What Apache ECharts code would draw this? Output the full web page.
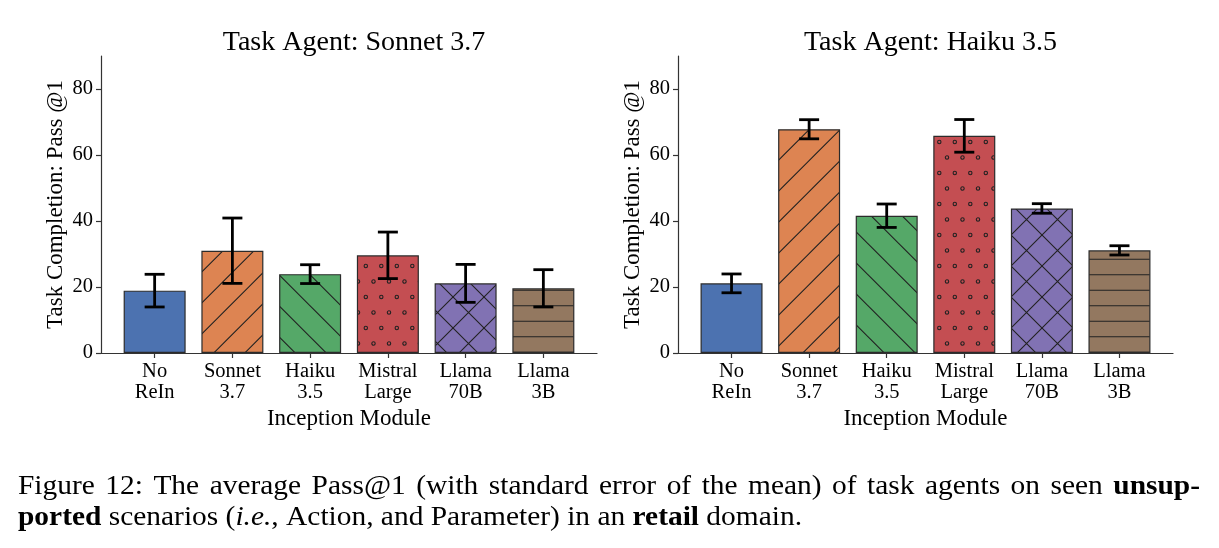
<!DOCTYPE html>
<html>
<head>
<meta charset="utf-8">
<script src="https://cdn.jsdelivr.net/npm/echarts@6/dist/echarts.min.js"></script>
<style>
html, body { margin: 0; padding: 0; background: #fff; }
#main { width: 1219px; height: 548px; }
</style>
</head>
<body>
<div id="main"></div>
<script>
// data
var modules = ['No\nReIn', 'Sonnet\n3.7', 'Haiku\n3.5', 'Mistral\nLarge', 'Llama\n70B', 'Llama\n3B'];
var sonnetMean = [18.9, 31.0, 23.9, 29.6, 21.1, 19.6];
var sonnetErr = [4.95, 9.9, 2.85, 7.05, 5.75, 5.65];
var haikuMean = [21.1, 67.8, 41.6, 65.8, 43.8, 31.1];
var haikuErr = [2.85, 2.9, 3.55, 4.95, 1.45, 1.4];
var yTicks = [0, 20, 40, 60, 80];
var xTicks = [0, 1, 2, 3, 4, 5];
var titles = ['Task Agent: Sonnet 3.7', 'Task Agent: Haiku 3.5'];

var barColors = ['#4C72B0', '#DD8452', '#55A868', '#C44E52', '#8172B3', '#937860'];
var hatches = ['', '/', '\\', 'o', 'x', '-'];
var serif = '"Liberation Serif", "DejaVu Serif", serif';

// matplotlib-like hatch tiles (canvas patterns)
function makeHatch(bg, hatch) {
    var s = 31;
    var c = document.createElement('canvas');
    c.width = s;
    c.height = s;
    var ctx = c.getContext('2d');
    ctx.fillStyle = bg;
    ctx.fillRect(0, 0, s, s);
    ctx.strokeStyle = '#222';
    ctx.lineWidth = 1.1;
    ctx.beginPath();
    if (hatch == '/' || hatch == 'x') {
        var cs = hatch == 'x' ? [6, 37] : [8.7, 39.7];
        cs.forEach(function (cc) {
            ctx.moveTo(cc + 12, -12);
            ctx.lineTo(cc - 43, 43);
        });
    }
    if (hatch == '\\' || hatch == 'x') {
        var cb = hatch == 'x' ? [-1, 30] : [-4.3, 26.7];
        cb.forEach(function (cc) {
            ctx.moveTo(-12, cc - 12);
            ctx.lineTo(43, cc + 43);
        });
    }
    if (hatch == '-') {
        [11.3, 26.8].forEach(function (y) {
            ctx.moveTo(0, y);
            ctx.lineTo(s, y);
        });
    }
    ctx.stroke();
    if (hatch == 'o') {
        var pts = [[9.3, 18], [24.8, 18], [1.5, 2.5], [17, 2.5]];
        pts.forEach(function (p) {
            for (var dx = -s; dx <= s; dx += s) {
                for (var dy = -s; dy <= s; dy += s) {
                    ctx.beginPath();
                    ctx.arc(p[0] + dx, p[1] + dy, 1.7, 0, Math.PI * 2);
                    ctx.stroke();
                }
            }
        });
    }
    return { image: c, repeat: 'repeat' };
}

var patterns = barColors.map(function (col, i) {
    return hatches[i] ? makeHatch(col, hatches[i]) : col;
});

var grids = [
    { left: 101, top: 56, width: 496, height: 297 },
    { left: 678, top: 56, width: 495, height: 297 }
];

var xMin = -0.69, xMax = 5.69;

function xAxisFor(i) {
    return {
        type: 'value',
        gridIndex: i,
        min: xMin,
        max: xMax,
        axisLine: { show: true, onZero: false, lineStyle: { color: '#333', width: 1.2 } },
        axisTick: { show: true, customValues: xTicks, length: 5, lineStyle: { color: '#333', width: 1.2 } },
        axisLabel: {
            customValues: xTicks,
            formatter: function (v) { return modules[Math.round(v)]; },
            fontFamily: serif,
            fontSize: 20.5,
            lineHeight: 21,
            color: '#000',
            margin: 8
        },
        splitLine: { show: false },
        name: 'Inception Module',
        nameLocation: 'middle',
        nameGap: 53,
        nameTextStyle: { fontFamily: serif, fontSize: 23, color: '#000' }
    };
}

function yAxisFor(i) {
    return {
        type: 'value',
        gridIndex: i,
        min: 0,
        max: 90,
        axisLine: { show: true, onZero: false, lineStyle: { color: '#333', width: 1.2 } },
        axisTick: { show: true, customValues: yTicks, length: 5, lineStyle: { color: '#333', width: 1.2 } },
        axisLabel: { customValues: yTicks, fontFamily: serif, fontSize: 20.5, color: '#000', margin: 8 },
        splitLine: { show: false },
        name: 'Task Completion: Pass @1',
        nameLocation: 'middle',
        nameGap: 34,
        nameTextStyle: { fontFamily: serif, fontSize: 23, color: '#000' }
    };
}

function barSeries(i, means) {
    return {
        type: 'bar',
        xAxisIndex: i,
        yAxisIndex: i,
        barWidth: 62,
        silent: true,
        data: means.map(function (v, j) {
            return { value: [j, v], itemStyle: { color: patterns[j] } };
        }),
        itemStyle: { borderColor: '#2b2b2b', borderWidth: 1.2 }
    };
}

function errSeries(i, means, errs) {
    return {
        type: 'custom',
        xAxisIndex: i,
        yAxisIndex: i,
        silent: true,
        z: 5,
        data: means.map(function (v, j) { return [j, v - errs[j], v + errs[j]]; }),
        renderItem: function (params, api) {
            var lo = api.coord([api.value(0), api.value(1)]);
            var hi = api.coord([api.value(0), api.value(2)]);
            var half = 10;
            var st = { stroke: '#000', lineWidth: 2.8 };
            return {
                type: 'group',
                children: [
                    { type: 'line', shape: { x1: hi[0], y1: hi[1], x2: lo[0], y2: lo[1] }, style: st },
                    { type: 'line', shape: { x1: hi[0] - half, y1: hi[1], x2: hi[0] + half, y2: hi[1] }, style: st },
                    { type: 'line', shape: { x1: lo[0] - half, y1: lo[1], x2: lo[0] + half, y2: lo[1] }, style: st }
                ]
            };
        }
    };
}

// caption, line 1 justified word by word
var capLine1 = [
    ['Figure'], ['12:'], ['The'], ['average'], ['Pass@1'], ['(with'], ['standard'], ['error'],
    ['of'], ['the'], ['mean)'], ['of'], ['task'], ['agents'], ['on'], ['seen'], ['unsup-', 'b']
];
var capLine2 = [
    ['ported', 'b'], ['scenarios'], ['(', '', 1], ['i.e.', 'i', 1], [','], ['Action,'], ['and'],
    ['Parameter)'], ['in'], ['an'], ['retail', 'b'], ['domain.']
];

var capSize = 27;
var capStretch = 1.09;
function capFont(s) {
    var pre = s == 'b' ? 'bold ' : (s == 'i' ? 'italic ' : '');
    return pre + capSize + 'px ' + serif;
}
var measureCtx = document.createElement('canvas').getContext('2d');
function textW(t, s) {
    measureCtx.font = capFont(s);
    return measureCtx.measureText(t).width * capStretch;
}

function layoutLine(words, y, x0, x1) {
    var els = [];
    var total = 0, gaps = 0;
    words.forEach(function (w, k) {
        total += textW(w[0], w[1]);
        if (!w[2] && k < words.length - 1) gaps++;
    });
    var gap = x1 ? (x1 - x0 - total) / gaps : textW(' ', '');
    var x = x0;
    words.forEach(function (w) {
        els.push({
            type: 'text',
            x: x,
            y: y,
            scaleX: capStretch,
            style: { x: 0, y: 0, text: w[0], font: capFont(w[1]), fill: '#000', textAlign: 'left', textVerticalAlign: 'middle' }
        });
        x += textW(w[0], w[1]) + (w[2] ? 0 : gap);
    });
    return els;
}

var graphicEls = layoutLine(capLine1, 487, 18, 1200).concat(layoutLine(capLine2, 518, 18, 0));

var chart = echarts.init(document.getElementById('main'));
var option = {
    animation: false,
    backgroundColor: '#fff',
    title: titles.map(function (t, i) {
        return {
            text: t,
            left: grids[i].left + grids[i].width / 2,
            top: 24,
            textAlign: 'center',
            textStyle: { fontFamily: serif, fontSize: 28, fontWeight: 'normal', color: '#000' }
        };
    }),
    grid: grids,
    xAxis: [xAxisFor(0), xAxisFor(1)],
    yAxis: [yAxisFor(0), yAxisFor(1)],
    series: [
        barSeries(0, sonnetMean),
        errSeries(0, sonnetMean, sonnetErr),
        barSeries(1, haikuMean),
        errSeries(1, haikuMean, haikuErr)
    ],
    graphic: graphicEls
};
chart.setOption(option);
</script>
</body>
</html>
